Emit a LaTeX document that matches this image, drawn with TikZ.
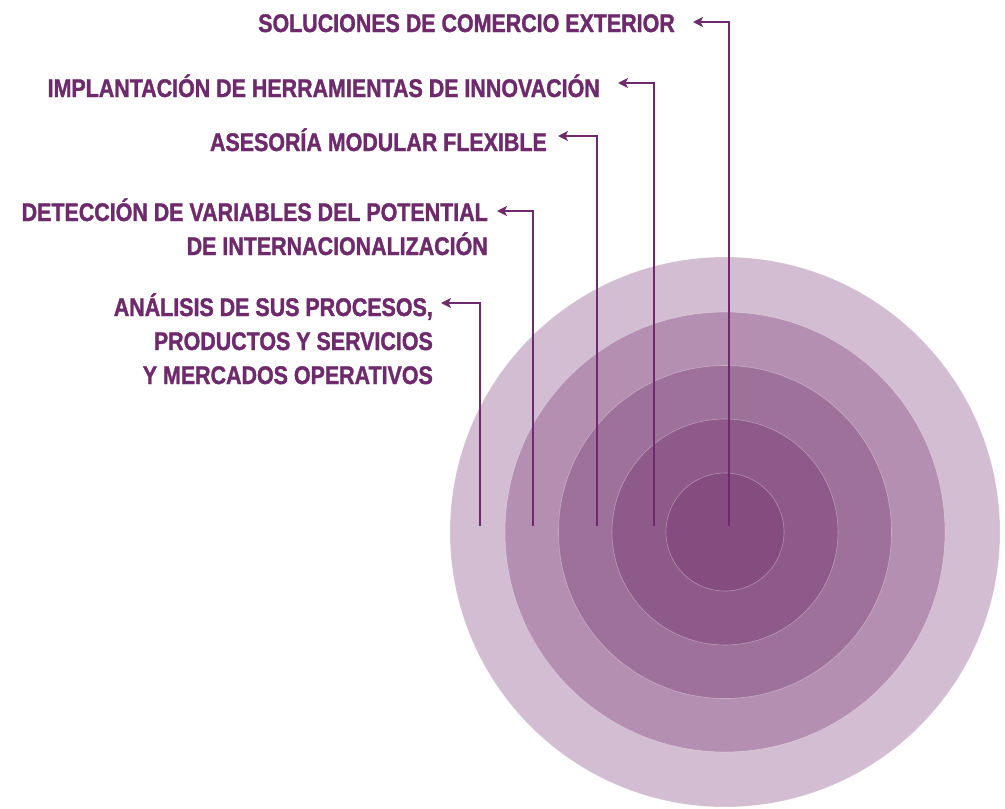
\documentclass[tikz,border=0pt]{standalone}
\usepackage{fontspec}
\newfontfamily\lblfont{Liberation Sans}[FakeStretch=0.84,FakeBold=1.4]
\usepackage{tikz}
\usetikzlibrary{arrows.meta,positioning}
\definecolor{plum}{HTML}{6D2B6B}
\definecolor{ringA}{HTML}{D2BDD2}
\definecolor{ringB}{HTML}{B48FB1}
\definecolor{ringC}{HTML}{9E719A}
\definecolor{ringD}{HTML}{8E5A89}
\definecolor{ringE}{HTML}{844C7F}

\begin{document}
\begin{tikzpicture}[x=1pt,y=-1pt]
\tikzstyle{lbl}=[inner sep=0pt, text=plum, align=right, anchor=base east,
  font=\lblfont\bfseries\fontsize{25.5}{34}\selectfont]
\tikzstyle{link}=[-{Stealth[length=10pt,width=10pt,inset=2.5pt]}, line width=2.2pt, draw=plum]
\tikzstyle{ring}=[draw=white, draw opacity=0.35, line width=0.6pt]
\useasboundingbox (0,0) rectangle (1005,809);
  % rings
  \coordinate (hub) at (725,532);
  \foreach \r/\c in {275/ringA, 220/ringB, 166.5/ringC, 113/ringD, 59/ringE}
    \filldraw[ring, fill=\c] (hub) circle (\r);
  % labels (base = last line)
  \node[lbl] (sol) at (675,32) {SOLUCIONES DE COMERCIO EXTERIOR};
  \node[lbl] (imp) at (600,97) {IMPLANTACIÓN DE HERRAMIENTAS DE INNOVACIÓN};
  \node[lbl] (ase) at (547,151) {ASESORÍA MODULAR FLEXIBLE};
  \node[lbl] (det) at (488,255) {DETECCIÓN DE VARIABLES DEL POTENTIAL\\DE INTERNACIONALIZACIÓN};
  \node[lbl] (ana) at (433,384) {ANÁLISIS DE SUS PROCESOS,\\PRODUCTOS Y SERVICIOS\\Y MERCADOS OPERATIVOS};
  % stems and tips
  \coordinate (solS) at (729,526); \coordinate (solT) at (693,22);
  \coordinate (impS) at (654,526); \coordinate (impT) at (618,83);
  \coordinate (aseS) at (597,526); \coordinate (aseT) at (558,136);
  \coordinate (detS) at (533,526); \coordinate (detT) at (497,211);
  \coordinate (anaS) at (480,526); \coordinate (anaT) at (441,303);
  \draw[link] (solS) |- (solT);
  \draw[link] (impS) |- (impT);
  \draw[link] (aseS) |- (aseT);
  \draw[link] (detS) |- (detT);
  \draw[link] (anaS) |- (anaT);
\end{tikzpicture}
\end{document}
